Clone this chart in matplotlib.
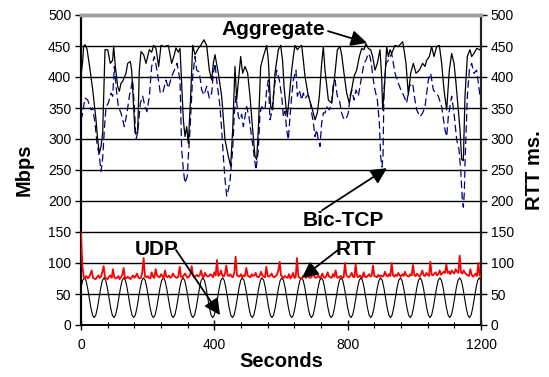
import numpy as np
import matplotlib
matplotlib.use("Agg")
import matplotlib.pyplot as plt
from matplotlib.ticker import MultipleLocator

plt.rcParams['font.family'] = ['Liberation Sans', 'DejaVu Sans']

# ---------------- data ----------------
agg_t = [0, 5, 8, 12, 18, 25, 35, 45, 50, 55, 60, 65, 72, 80, 88, 95, 98, 103, 110, 115,
         120, 125, 135, 140, 148, 152, 162, 170, 175, 180, 188, 195, 205, 212, 218, 225, 233, 240, 250, 262,
         272, 280, 285, 292, 297, 307, 312, 317, 322, 329, 335, 342, 352, 359, 369, 377, 385, 392, 397, 402,
         412, 422, 432, 442, 449, 455, 462, 467, 479, 485, 492, 500, 507, 515, 522, 527, 532, 539, 547, 557,
         562, 569, 575, 582, 592, 599, 605, 609, 615, 619, 625, 632, 637, 642, 649, 657, 662, 667, 672, 682,
         692, 702, 709, 715, 722, 727, 732, 742, 752, 762, 769, 777, 782, 789, 797, 805, 812, 819, 827, 835,
         842, 849, 855, 862, 869, 875, 882, 889, 897, 902, 905, 910, 917, 922, 927, 932, 942, 952, 965, 969,
         975, 982, 989, 997, 1005, 1015, 1025, 1032, 1037, 1045, 1052, 1059, 1067, 1075, 1082, 1089, 1097, 1105, 1112, 1119,
         1125, 1132, 1137, 1142, 1147, 1152, 1159, 1167, 1172, 1179, 1187, 1197, 1200]
agg_v = [403, 425, 450, 452, 445, 420, 380, 331, 299, 277, 288, 310, 444, 444, 422, 427, 450, 417, 385, 377,
         390, 393, 406, 422, 425, 411, 310, 310, 411, 441, 436, 422, 444, 440, 451, 446, 417, 451, 449, 451,
         422, 436, 447, 440, 446, 331, 304, 320, 293, 369, 451, 436, 446, 451, 460, 451, 411, 395, 422, 436,
         406, 369, 299, 272, 256, 315, 417, 363, 433, 406, 417, 406, 369, 315, 272, 267, 315, 417, 433, 451,
         427, 352, 347, 406, 444, 451, 425, 385, 352, 336, 369, 411, 433, 451, 444, 449, 451, 427, 401, 369,
         352, 331, 342, 369, 422, 449, 411, 363, 358, 406, 444, 449, 436, 406, 374, 358, 379, 401, 411, 433,
         446, 444, 454, 446, 444, 433, 411, 422, 444, 400, 347, 380, 449, 433, 444, 438, 451, 449, 457, 444,
         422, 371, 406, 422, 406, 411, 422, 417, 427, 433, 449, 433, 449, 451, 422, 379, 347, 411, 438, 422,
         390, 347, 315, 267, 265, 369, 433, 444, 433, 438, 446, 444, 440]

bic_t = [0, 5, 12, 20, 30, 35, 42, 48, 55, 60, 65, 70, 75, 82, 90, 95, 100, 105, 112, 120,
         130, 138, 145, 155, 160, 165, 170, 178, 185, 192, 198, 205, 212, 220, 228, 238, 245, 255, 262, 272,
         280, 288, 297, 302, 307, 312, 319, 322, 327, 335, 342, 347, 355, 362, 369, 377, 385, 392, 397, 402,
         407, 417, 422, 427, 432, 437, 442, 447, 455, 460, 465, 472, 477, 482, 487, 492, 497, 504, 509, 517,
         525, 532, 537, 542, 552, 557, 562, 567, 572, 579, 587, 595, 602, 605, 607, 612, 617, 622, 627, 632,
         637, 645, 649, 655, 662, 667, 672, 677, 682, 687, 692, 697, 702, 707, 712, 717, 722, 727, 732, 737,
         745, 752, 757, 762, 769, 775, 782, 787, 794, 802, 807, 812, 819, 825, 832, 837, 842, 849, 855, 862,
         867, 872, 877, 882, 889, 895, 899, 903, 906, 909, 915, 922, 932, 942, 952, 959, 969, 977, 985, 995,
         1000, 1007, 1017, 1025, 1032, 1042, 1049, 1057, 1065, 1072, 1082, 1092, 1097, 1102, 1107, 1112, 1119, 1127, 1134, 1139,
         1144, 1147, 1150, 1152, 1159, 1165, 1172, 1179, 1187, 1197, 1200]
bic_v = [330, 342, 366, 363, 347, 350, 326, 293, 272, 248, 269, 315, 352, 358, 374, 369, 417, 385, 352, 342,
         320, 342, 369, 395, 352, 299, 310, 358, 369, 352, 344, 369, 417, 433, 411, 374, 374, 395, 382, 401,
         411, 422, 395, 283, 250, 229, 240, 272, 315, 401, 433, 411, 408, 379, 371, 385, 366, 374, 406, 422,
         395, 352, 315, 272, 235, 208, 218, 232, 283, 342, 369, 336, 331, 340, 320, 336, 352, 336, 315, 283,
         250, 283, 342, 352, 347, 379, 395, 331, 342, 379, 411, 395, 369, 352, 336, 345, 315, 299, 336, 369,
         395, 411, 369, 379, 363, 374, 365, 369, 371, 363, 342, 326, 304, 315, 299, 288, 326, 342, 342, 352,
         347, 358, 390, 395, 369, 363, 342, 334, 331, 342, 369, 379, 363, 379, 369, 385, 401, 422, 427, 438,
         433, 417, 395, 379, 363, 326, 272, 255, 272, 380, 422, 427, 438, 406, 390, 380, 369, 358, 385, 390,
         369, 347, 336, 342, 352, 395, 406, 379, 374, 369, 352, 315, 304, 336, 352, 369, 342, 299, 283, 250,
         203, 190, 213, 261, 369, 411, 422, 406, 411, 369, 360]

# RTT (ms), one sample every 4 s from 0 to 1200 s
rtt_v = [150, 96, 78, 76, 79, 75, 77, 82, 88, 76, 75, 74, 77, 80, 76, 78, 85, 95, 77, 75, 74, 78, 80, 76, 90,
         77, 75, 76, 79, 74, 77, 81, 92, 76, 75, 78, 76, 74, 77, 80, 76, 79, 83, 77, 75, 76, 86, 108, 78, 77,
         79, 76, 75, 85, 78, 76, 90, 80, 78, 77, 82, 79, 76, 88, 78, 77, 80, 76, 78, 83, 79, 77, 76, 78, 94,
         78, 77, 80, 83, 79, 76, 78, 82, 95, 80, 77, 79, 81, 78, 80, 88, 79, 77, 84, 80, 78, 79, 82, 80, 77,
         85, 80, 105, 79, 81, 88, 80, 78, 83, 96, 80, 79, 82, 78, 77, 85, 110, 80, 79, 78, 82, 77, 80, 79, 92,
         80, 78, 77, 82, 79, 80, 84, 78, 77, 79, 86, 80, 78, 77, 94, 79, 78, 80, 83, 78, 77, 79, 81, 88, 102,
         80, 78, 76, 79, 77, 76, 82, 75, 78, 84, 76, 77, 108, 79, 76, 75, 77, 80, 78, 76, 86, 77, 76, 78, 95,
         78, 76, 77, 80, 76, 78, 83, 77, 76, 79, 85, 78, 77, 76, 82, 78, 88, 77, 76, 78, 79, 76, 77, 100, 80,
         78, 77, 80, 84, 78, 77, 98, 79, 77, 80, 78, 76, 85, 78, 77, 79, 82, 78, 80, 96, 79, 78, 77, 81, 78,
         80, 78, 79, 86, 80, 78, 82, 79, 100, 80, 78, 81, 79, 84, 80, 78, 82, 79, 86, 80, 79, 78, 82, 80, 97,
         80, 79, 83, 80, 78, 82, 88, 80, 79, 84, 81, 79, 102, 81, 80, 83, 85, 80, 82, 88, 81, 83, 86, 84, 98,
         84, 86, 82, 88, 85, 83, 90, 86, 84, 112, 85, 83, 88, 84, 82, 80, 79, 90, 81, 78, 80, 83, 79, 100, 80,
         78]
rtt_t = np.linspace(0, 1200, len(rtt_v))

# UDP (Mbps), evenly sampled over 0..1200 s
udp_v = [60, 72, 76, 72, 60, 44, 28, 16,
         12, 16, 28, 44, 60, 72, 76, 72, 60, 44, 28, 16,
         12, 16, 28, 44, 60, 72, 76, 72, 60, 44, 28, 16,
         12, 16, 28, 44, 60, 72, 76, 72, 60, 44, 28, 16,
         12, 16, 28, 44, 60, 72, 76, 72, 60, 44, 28, 16,
         12, 16, 28, 44, 60, 72, 76, 72, 60, 44, 28, 16,
         12, 16, 28, 44, 60, 72, 76, 72, 60, 44, 28, 16,
         12, 16, 28, 44, 60, 72, 76, 72, 60, 44, 28, 16,
         12, 16, 28, 44, 60, 72, 76, 72, 60, 44, 28, 16,
         12, 16, 28, 44, 60, 72, 76, 72, 60, 44, 28, 16,
         12, 16, 28, 44, 60, 72, 76, 72, 60, 44, 28, 16,
         12, 16, 28, 44, 60, 72, 76, 72, 60, 44, 28, 16,
         12, 16, 28, 44, 60, 72, 76, 72, 60, 44, 28, 16,
         12, 16, 28, 44, 60, 72, 76, 72, 60, 44, 28, 16,
         12, 16, 28, 44, 60, 72, 76, 72, 60, 44, 28, 16,
         12, 16, 28, 44, 60, 72, 76, 72, 60, 44, 28, 16,
         12, 16, 28, 44, 60, 72, 76, 72, 60, 44, 28, 16,
         12, 16, 28, 44, 60, 72, 76, 72, 60, 44, 28, 16,
         12, 16, 28, 44, 60, 72, 76, 72, 60, 44, 28, 16,
         12, 16, 28, 44, 60, 72, 76, 72, 60, 44, 28, 16,
         12, 16, 28, 44, 60, 72, 76, 72]
udp_t = np.linspace(0, 1200, len(udp_v))

x_ticks = [0, 400, 800, 1200]
y_ticks = list(range(0, 501, 50))

# ---------------- figure ----------------
fig = plt.figure(figsize=(5.49, 3.77), dpi=100)
ax = fig.add_axes([81 / 549, 1 - 325 / 377, 400 / 549, 310 / 377])
ax2 = ax.twinx()

for y in y_ticks[1:-1]:
    ax.axhline(y, color='black', lw=1.0, zorder=1)

ax.plot(bic_t, bic_v, color='#000080', lw=0.9, dashes=(6, 3), zorder=2)
ax.plot(agg_t, agg_v, color='black', lw=0.9, zorder=3)
ax.plot(udp_t, udp_v, color='black', lw=0.8, zorder=3)
ax2.plot(rtt_t, rtt_v, color='#ff0000', lw=1.3, zorder=4)

ax.set_xlim(0, 1200)
ax.set_ylim(0, 500)
ax2.set_ylim(0, 500)
ax.set_xticks(x_ticks)
ax.xaxis.set_minor_locator(MultipleLocator(80))
ax.set_yticks(y_ticks)
ax2.set_yticks(y_ticks)

ax.tick_params(axis='x', which='major', direction='inout', length=7, width=1.0, labelsize=10, pad=6)
ax.tick_params(axis='x', which='minor', direction='inout', length=5, width=0.8)
ax.tick_params(axis='y', direction='out', length=4, width=1.0, labelsize=10, pad=3)
ax2.tick_params(axis='y', direction='out', length=4, width=1.0, labelsize=10, pad=3)

for a in (ax, ax2):
    a.spines['top'].set_color('#a0a0a0')
    a.spines['top'].set_linewidth(2.5)
    a.spines['left'].set_linewidth(1.5)
    a.spines['right'].set_linewidth(1.5)
    a.spines['right'].set_color('#202020')
    a.spines['bottom'].set_linewidth(1.2)

ax.set_xlabel('Seconds', fontsize=14.5, fontweight='bold', labelpad=0)
ax.set_ylabel('Mbps', fontsize=14.5, fontweight='bold', labelpad=10)
ax2.set_ylabel('RTT ms.', fontsize=14.5, fontweight='bold', labelpad=8)

arrow = dict(arrowstyle='-|>', mutation_scale=24, lw=1.3, color='black', shrinkA=0, shrinkB=0)
ax2.annotate('', xy=(858, 455), xytext=(741, 474), arrowprops=arrow, zorder=6)
ax2.annotate('', xy=(918, 253), xytext=(723, 185), arrowprops=arrow, zorder=6)
ax2.annotate('', xy=(663, 76), xytext=(771, 121), arrowprops=arrow, zorder=6)
ax2.annotate('', xy=(417, 16), xytext=(285, 121), arrowprops=arrow, zorder=6)

tk = dict(fontsize=15, fontweight='bold', ha='center', va='center', zorder=7)
ax2.text(578, 476, 'Aggregate', **tk)
ax2.text(786, 168, 'Bic-TCP', **tk)
ax2.text(825, 121, 'RTT', **tk)
ax2.text(228, 121, 'UDP', **tk)

fig.savefig('out.png', dpi=100)
